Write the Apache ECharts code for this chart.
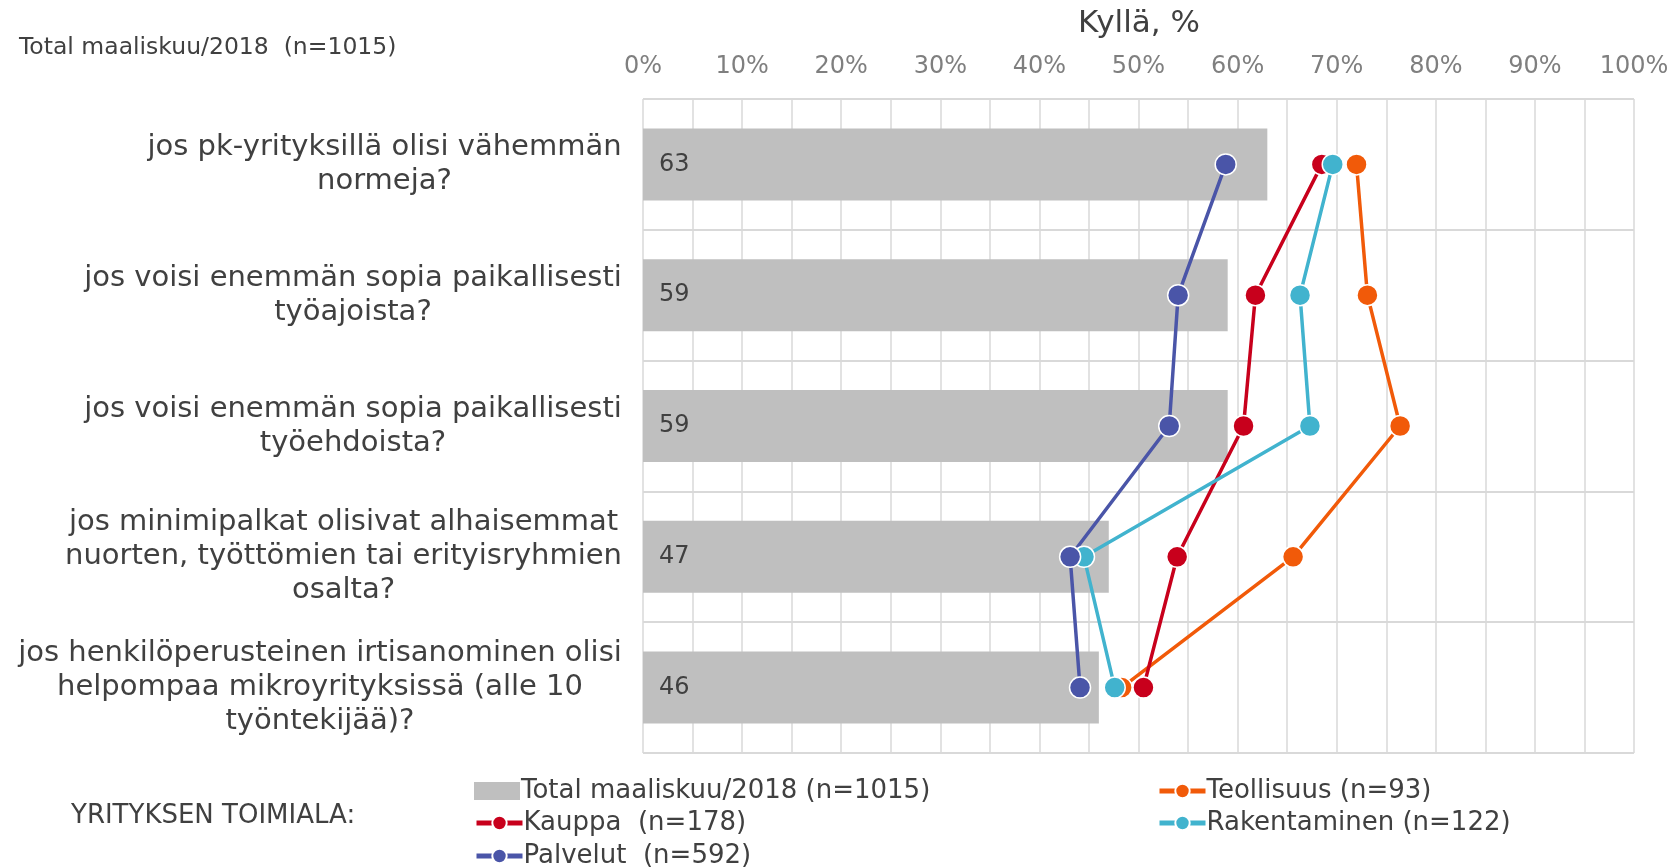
<!DOCTYPE html>
<html>
<head>
<meta charset="utf-8">
<script src="https://cdn.jsdelivr.net/npm/echarts@6/dist/echarts.min.js"></script>
<style>
  html, body { margin: 0; padding: 0; background: #fff; }
  #chart { width: 1672px; height: 867px; }
</style>
</head>
<body>
<div id="chart"></div>
<script>
const categories = [
  "jos pk-yrityksillä olisi vähemmän\nnormeja?",
  "jos voisi enemmän sopia paikallisesti\ntyöajoista?",
  "jos voisi enemmän sopia paikallisesti\ntyöehdoista?",
  "jos minimipalkat olisivat alhaisemmat\nnuorten, työttömien tai erityisryhmien\nosalta?",
  "jos henkilöperusteinen irtisanominen olisi\nhelpompaa mikroyrityksissä (alle 10\ntyöntekijää)?"
];
const total = [63, 59, 59, 47, 46];
const teollisuus = [72.0, 73.1, 76.4, 65.6, 48.3];
const kauppa = [68.5, 61.8, 60.6, 53.9, 50.5];
const rakentaminen = [69.6, 66.3, 67.3, 44.5, 47.6];
const palvelut = [58.8, 54.0, 53.1, 43.1, 44.1];
const xTicks = [0, 10, 20, 30, 40, 50, 60, 70, 80, 90, 100];

const FONT = '"DejaVu Sans", Verdana, sans-serif';
const catSize = 29;

// measure each label block so lines can be centred inside it
const ctx = document.createElement('canvas').getContext('2d');
ctx.font = catSize + 'px ' + FONT;
const rich = {};
categories.forEach((c, i) => {
  const w = Math.max(...c.split('\n').map(l => ctx.measureText(l).width));
  rich['c' + i] = { width: Math.ceil(w) + 2, align: 'center', fontSize: catSize, lineHeight: 34, color: '#404040', fontFamily: FONT };
});

const lineSeries = (name, data, color) => ({
  name: name,
  type: 'line',
  data: data,
  symbol: 'circle',
  symbolSize: 21,
  lineStyle: { color: color, width: 3.5 },
  itemStyle: { color: color, borderColor: '#fff', borderWidth: 1.5 },
  z: 3
});

const legendBase = {
  padding: 0,
  itemWidth: 46,
  itemHeight: 18,
  lineStyle: { width: 5 },
  textStyle: { fontFamily: FONT, fontSize: 26, color: '#404040', padding: [0, 0, 0, -4] }
};

const chart = echarts.init(document.getElementById('chart'));
chart.setOption({
  backgroundColor: '#fff',
  animation: false,
  title: [
    { text: 'Total maaliskuu/2018  (n=1015)', left: 14, top: 31,
      textStyle: { fontFamily: FONT, fontSize: 23.5, fontWeight: 'normal', color: '#404040' } },
    { text: 'Kyllä, %', left: 1134, top: 3, textAlign: 'center',
      textStyle: { fontFamily: FONT, fontSize: 31, fontWeight: 'normal', color: '#404040' } },
    { text: 'YRITYKSEN TOIMIALA:', left: 66, top: 798,
      textStyle: { fontFamily: FONT, fontSize: 26, fontWeight: 'normal', color: '#404040' } }
  ],
  grid: { left: 643, right: 38, top: 99, bottom: 114 },
  xAxis: {
    type: 'value',
    position: 'top',
    min: 0,
    max: 100,
    interval: 5,
    axisLine: { show: false },
    axisTick: { show: false },
    axisLabel: {
      margin: 20,
      fontFamily: FONT,
      fontSize: 24,
      color: '#7f7f7f',
      formatter: v => xTicks.includes(v) ? v + '%' : ''
    },
    splitLine: { show: true, lineStyle: { color: '#d9d9d9', width: 1.5 } }
  },
  yAxis: {
    type: 'category',
    inverse: true,
    data: categories,
    axisLine: { show: false },
    axisTick: { show: false },
    axisLabel: {
      margin: 20,
      align: 'right',
      formatter: (v, idx) => v.split('\n').map(l => '{c' + idx + '|' + l + '}').join('\n'),
      rich: rich
    },
    splitLine: { show: true, lineStyle: { color: '#d9d9d9', width: 2 } }
  },
  legend: [
    Object.assign({}, legendBase, { left: 474, top: 778, data: [{ name: 'Total maaliskuu/2018 (n=1015)', icon: 'rect' }] }),
    Object.assign({}, legendBase, { left: 474, top: 810, data: ['Kauppa  (n=178)'] }),
    Object.assign({}, legendBase, { left: 474, top: 843, data: ['Palvelut  (n=592)'] }),
    Object.assign({}, legendBase, { left: 1157, top: 778, data: ['Teollisuus (n=93)'] }),
    Object.assign({}, legendBase, { left: 1157, top: 810, data: ['Rakentaminen (n=122)'] })
  ],
  series: [
    {
      name: 'Total maaliskuu/2018 (n=1015)',
      type: 'bar',
      data: total,
      barWidth: 72,
      itemStyle: { color: '#bfbfbf' },
      label: {
        show: true,
        position: 'insideLeft',
        distance: 16,
        fontFamily: FONT,
        fontSize: 24,
        color: '#404040'
      }
    },
    lineSeries('Teollisuus (n=93)', teollisuus, '#f15a09'),
    lineSeries('Kauppa  (n=178)', kauppa, '#c8001c'),
    lineSeries('Rakentaminen (n=122)', rakentaminen, '#41b3ce'),
    lineSeries('Palvelut  (n=592)', palvelut, '#4a55a8')
  ]
});
</script>
</body>
</html>
